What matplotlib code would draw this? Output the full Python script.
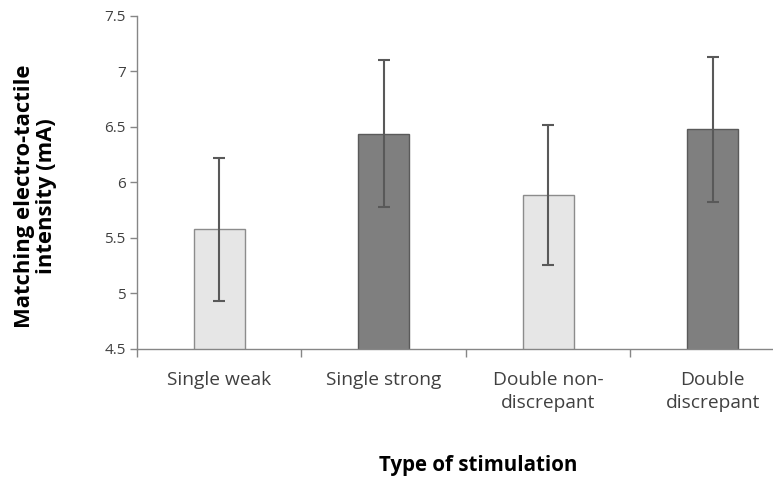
import matplotlib.pyplot as plt

# Datos
categorias = ['Single weak', 'Single strong', 'Double non-\ndiscrepant', 'Double\ndiscrepant']
medias = [5.58, 6.44, 5.89, 6.48]
errores = [0.645, 0.66, 0.63, 0.655]
colores = ['#e6e6e6', '#7f7f7f', '#e6e6e6', '#7f7f7f']
bordes = ['#8c8c8c', '#5a5a5a', '#8c8c8c', '#5a5a5a']

plt.rcParams['font.family'] = ['Open Sans', 'DejaVu Sans']

fig = plt.figure(figsize=(7.73, 4.79), dpi=100)
ax = fig.add_axes([0.177, 0.2714, 0.823, 0.6952])

x = range(len(categorias))
ax.bar(x, medias, width=0.31, color=colores, edgecolor=bordes, linewidth=1.0,
       bottom=0, zorder=2)
ax.errorbar(x, medias, yerr=errores, fmt='none', ecolor='#595959',
            elinewidth=1.5, capsize=4, capthick=1.5, zorder=3)

ax.set_ylim(4.5, 7.5)
ax.set_yticks([4.5, 5, 5.5, 6, 6.5, 7, 7.5])
ax.set_yticklabels(['4.5', '5', '5.5', '6', '6.5', '7', '7.5'])
ax.set_xlim(-0.5, 3.366)

# ticks mayores en los limites entre categorias, etiquetas en los centros
ax.set_xticks([-0.5, 0.5, 1.5, 2.5])
ax.set_xticklabels([])
ax.set_xticks(list(x), minor=True)
ax.set_xticklabels(categorias, minor=True, fontsize=13.8, color='#404040',
                   linespacing=1.35)
ax.tick_params(axis='x', which='minor', length=0, pad=16)
ax.tick_params(axis='x', which='major', length=6, width=1, color='#868686', direction='out')
ax.tick_params(axis='y', length=5, width=1, color='#868686', labelsize=11,
               labelcolor='#404040', pad=3)

for s in ['top', 'right']:
    ax.spines[s].set_visible(False)
for s in ['left', 'bottom']:
    ax.spines[s].set_color('#868686')
    ax.spines[s].set_linewidth(1)

fig.text(0.618, 0.029, 'Type of stimulation', ha='center', va='center',
         fontsize=14.8, fontweight='bold')
fig.text(0.046, 0.59, 'Matching electro-tactile\nintensity (mA)', ha='center',
         va='center', rotation=90, fontsize=15.8, fontweight='bold',
         linespacing=1.05)

fig.savefig('out.png', dpi=100)
